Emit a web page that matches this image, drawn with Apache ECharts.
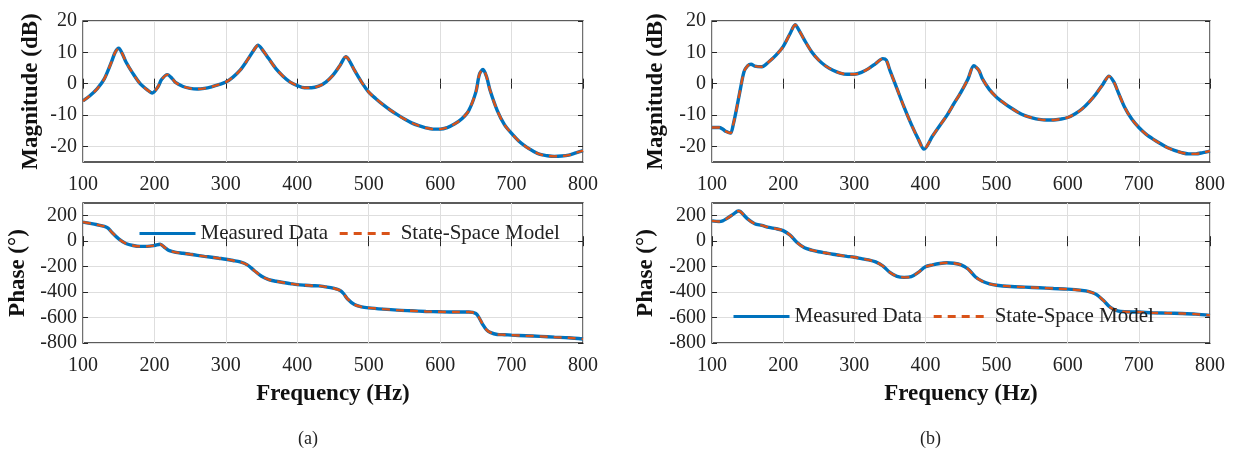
<!DOCTYPE html>
<html>
<head>
<meta charset="utf-8">
<script src="https://cdn.jsdelivr.net/npm/echarts@6/dist/echarts.min.js"></script>
<style>
  html, body { margin: 0; padding: 0; background: #fff; }
  #chart { width: 1243px; height: 455px; }
</style>
</head>
<body>
<div id="chart"></div>
<script>
// tick labels
const freqTicks = [100, 200, 300, 400, 500, 600, 700, 800]
const magTicks = [-20, -10, 0, 10, 20]
const phaseTicks = [-800, -600, -400, -200, 0, 200]

// (a) magnitude
const freqMagA = [100, 110, 120, 130, 140, 145, 150, 155, 160, 170, 180, 190, 197, 205, 210, 218, 225, 230, 240, 250,
    260, 270, 280, 290, 300, 310, 320, 330, 340, 345, 350, 360, 370, 380, 390, 400, 410, 420, 430, 440,
    450, 460, 468, 472, 480, 490, 500, 510, 520, 530, 540, 550, 560, 570, 580, 590, 600, 610, 620, 630,
    640, 650, 655, 660, 665, 670, 680, 690, 700, 710, 720, 730, 740, 750, 760, 770, 780, 790, 800]
const magA = [-5.5, -3.8, -1.6, 1.6, 7, 10, 11.3, 9.6, 7, 3.2, 0, -2, -3, -1, 1.3, 2.9, 1.6, 0.3, -0.9, -1.5,
    -1.7, -1.5, -1, -0.3, 0.5, 2.1, 4.3, 7.5, 11, 12.3, 11.2, 8, 4.8, 2.4, 0.5, -0.6, -1.3, -1.3, -0.8, 0.5,
    2.7, 5.9, 8.6, 7.7, 4.3, 0.5, -2.7, -4.8, -6.7, -8.4, -9.9, -11.3, -12.5, -13.4, -14.1, -14.5, -14.5, -14, -12.9, -11.3,
    -8.6, -2.7, 3, 4.5, 2.2, -2.2, -8.6, -13.1, -15.9, -18.3, -20.1, -21.5, -22.6, -23, -23.2, -23.1, -22.8, -22.1, -21.4]

// (a) phase
const freqPhaseA = [100, 110, 120, 130, 135, 140, 150, 160, 170, 180, 190, 200, 208, 215, 220, 230, 240, 250, 260, 270,
    280, 290, 300, 310, 320, 330, 340, 350, 360, 370, 380, 390, 400, 410, 420, 430, 440, 450, 460, 465,
    470, 480, 490, 500, 520, 540, 560, 580, 600, 620, 640, 650, 655, 660, 665, 670, 680, 690, 700, 720,
    740, 760, 780, 800]
const phaseA = [150, 140, 129, 116, 103, 72, 18, -18, -34, -41, -41, -34, -24, -52, -72, -88, -95, -103, -111, -119,
    -126, -134, -142, -152, -163, -186, -232, -276, -302, -315, -325, -333, -341, -346, -350, -351, -359, -369, -387, -413,
    -452, -498, -516, -524, -534, -542, -547, -552, -555, -557, -557, -568, -606, -658, -697, -717, -733, -735, -738, -743,
    -748, -754, -759, -769]

// (b) magnitude
const freqMagB = [100, 110, 115, 120, 126, 130, 135, 140, 145, 150, 155, 160, 170, 180, 190, 200, 210, 217, 220, 230,
    240, 250, 260, 270, 280, 290, 300, 310, 320, 330, 340, 345, 350, 360, 370, 380, 390, 398, 410, 420,
    430, 440, 450, 460, 468, 475, 480, 490, 500, 510, 520, 530, 540, 550, 560, 570, 580, 590, 600, 610,
    620, 630, 640, 650, 658, 665, 670, 680, 690, 700, 710, 720, 730, 740, 750, 760, 770, 780, 790, 800]
const magB = [-14, -14, -14.5, -15.3, -15.8, -12.9, -7.5, -1.6, 3.8, 5.7, 6.2, 5.6, 5.4, 7, 9.1, 11.8, 16.1, 18.8, 18, 13.9,
    10.2, 7.5, 5.6, 4.3, 3.4, 3, 3, 3.6, 4.8, 6.4, 8, 7.5, 4.3, -1.6, -7.5, -12.9, -17.7, -20.9, -16.7, -13.4,
    -10.2, -6.4, -2.7, 1.6, 5.7, 4.3, 1.6, -1.9, -4.3, -6.1, -7.7, -9.1, -10.2, -10.9, -11.4, -11.6, -11.6, -11.3, -10.8, -9.7,
    -8.1, -5.9, -3.2, 0, 2.4, 0.5, -2.2, -7.5, -11.3, -14, -16.1, -17.7, -19.1, -20.4, -21.3, -22, -22.4, -22.4, -22, -21.5]

// (b) phase
const freqPhaseB = [100, 110, 115, 120, 130, 137, 140, 150, 160, 170, 180, 190, 200, 210, 220, 230, 240, 250, 260, 270,
    280, 290, 300, 310, 320, 330, 340, 350, 360, 370, 380, 390, 400, 410, 420, 430, 440, 450, 460, 470,
    480, 490, 500, 520, 540, 560, 580, 600, 620, 630, 640, 650, 660, 670, 680, 700, 720, 740, 760, 780,
    800]
const phaseB = [160, 155, 160, 175, 212, 237, 232, 175, 137, 124, 108, 98, 83, 46, -13, -52, -70, -83, -93, -103,
    -111, -119, -126, -137, -147, -163, -194, -245, -276, -284, -279, -245, -201, -186, -175, -170, -173, -186, -219, -279,
    -315, -335, -346, -356, -361, -366, -372, -377, -387, -397, -418, -465, -521, -547, -555, -557, -563, -565, -568, -573,
    -583]

const FONT = 'Liberation Serif'
const BLUE = '#0072BD'
const RED = '#D95319'
const zip = (xs, ys) => xs.map((x, i) => [x, ys[i]])

const grids = [
    {left: 83, top: 21, width: 500, height: 141},
    {left: 83, top: 203, width: 500, height: 140},
    {left: 712, top: 21, width: 498, height: 141},
    {left: 712, top: 203, width: 498, height: 140}
]

function xAxisFor(gi, main, withName) {
    return {
        type: 'value', gridIndex: gi, min: 100, max: 800, interval: 100,
        position: main ? 'bottom' : 'top',
        name: withName ? 'Frequency (Hz)' : '',
        nameLocation: 'middle', nameGap: 40,
        nameTextStyle: {fontFamily: FONT, fontSize: 23, fontWeight: 'bold', color: '#111'},
        axisLine: {show: false},
        axisTick: {show: true, inside: true, length: 5, customValues: freqTicks, lineStyle: {color: '#262626'}},
        axisLabel: {show: main, customValues: freqTicks, margin: 13, fontFamily: FONT, fontSize: 20, color: '#222'},
        splitLine: {show: main, lineStyle: {color: '#dedede', width: 1}}
    }
}

function yAxisFor(gi, main, isMag, name, gap) {
    const ticks = isMag ? magTicks : phaseTicks
    return {
        type: 'value', gridIndex: gi,
        min: isMag ? -25 : -800, max: isMag ? 20 : 300,
        position: main ? 'left' : 'right',
        name: main ? name : '',
        nameLocation: 'middle', nameGap: gap,
        nameTextStyle: {fontFamily: FONT, fontSize: 23, fontWeight: 'bold', color: '#111'},
        axisLine: {show: false},
        axisTick: {show: true, inside: true, length: 5, customValues: ticks, lineStyle: {color: '#262626'}},
        axisLabel: {show: main, customValues: ticks, margin: 6, fontFamily: FONT, fontSize: 20, color: '#222'},
        splitLine: {show: main, lineStyle: {color: '#dedede', width: 1}}
    }
}

function pair(gi, xs, ys) {
    // measured data (solid) and fitted state-space model (dashed on top)
    return [
        {
            name: 'Measured Data', type: 'line', xAxisIndex: gi * 2, yAxisIndex: gi * 2,
            data: zip(xs, ys), showSymbol: false, symbol: 'none', smooth: 0.3,
            lineStyle: {color: BLUE, width: 3.4}, itemStyle: {color: BLUE}
        },
        {
            name: 'State-Space Model', type: 'line', xAxisIndex: gi * 2, yAxisIndex: gi * 2,
            data: zip(xs, ys), showSymbol: false, symbol: 'none', smooth: 0.3,
            lineStyle: {color: RED, width: 2.4, type: [8, 6]}, itemStyle: {color: RED}
        }
    ]
}

const legendStyle = {
    orient: 'horizontal', itemWidth: 56, itemHeight: 14, itemGap: 10,
    data: ['Measured Data', 'State-Space Model'],
    itemStyle: {opacity: 0},
    lineStyle: {width: 3},
    textStyle: {fontFamily: FONT, fontSize: 21, color: '#222'}
}

const chart = echarts.init(document.getElementById('chart'), null, {renderer: 'canvas'})

chart.setOption({
    backgroundColor: '#fff',
    animation: false,
    title: [
        {text: '(a)', left: 293, top: 425, textStyle: {fontFamily: FONT, fontSize: 18, fontWeight: 'normal', color: '#222'}},
        {text: '(b)', left: 915, top: 425, textStyle: {fontFamily: FONT, fontSize: 18, fontWeight: 'normal', color: '#222'}}
    ],
    legend: [
        Object.assign({left: 133, top: 218}, legendStyle),
        Object.assign({left: 727, top: 301}, legendStyle)
    ],
    grid: grids.map(g => Object.assign({show: true, borderColor: '#262626', borderWidth: 1.3, backgroundColor: 'transparent'}, g)),
    xAxis: [
        xAxisFor(0, true, false), xAxisFor(0, false, false),
        xAxisFor(1, true, true), xAxisFor(1, false, false),
        xAxisFor(2, true, false), xAxisFor(2, false, false),
        xAxisFor(3, true, true), xAxisFor(3, false, false)
    ],
    yAxis: [
        yAxisFor(0, true, true, 'Magnitude (dB)', 40), yAxisFor(0, false, true),
        yAxisFor(1, true, false, 'Phase (°)', 53), yAxisFor(1, false, false),
        yAxisFor(2, true, true, 'Magnitude (dB)', 44), yAxisFor(2, false, true),
        yAxisFor(3, true, false, 'Phase (°)', 54), yAxisFor(3, false, false)
    ],
    series: [
        ...pair(0, freqMagA, magA),
        ...pair(1, freqPhaseA, phaseA),
        ...pair(2, freqMagB, magB),
        ...pair(3, freqPhaseB, phaseB)
    ]
})
</script>
</body>
</html>
